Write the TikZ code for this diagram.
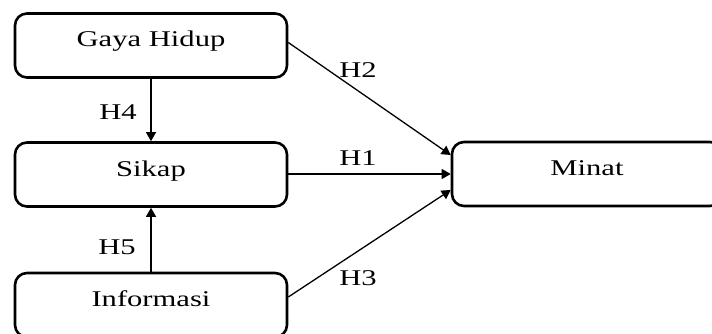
\documentclass[tikz,border=0pt]{standalone}
\usepackage{fontspec}
\setmainfont{Liberation Serif}
\usetikzlibrary{arrows.meta,calc}
\newcommand{\wtxt}[1]{\scalebox{1.36}[1]{#1}}
\tikzset{
  box/.style={draw, line width=2.6pt, rounded corners=12pt, minimum width=272pt, minimum height=64pt,
    text height=16pt, text depth=13pt, inner sep=0pt, font=\fontsize{22.5}{27}\selectfont},
  conn/.style={line width=1.3pt, -{Triangle[length=9pt,width=10pt]}},
  lbl/.style={font=\fontsize{22.5}{27}\selectfont, inner sep=0pt}
}
\begin{document}
\begin{tikzpicture}[x=1pt,y=-1pt]
\useasboundingbox (0,0) rectangle (712,334);
\node[box] (gaya) at (151,45.5) {\wtxt{Gaya Hidup}};
\node[box] (sikap) at (151,174.5) {\wtxt{Sikap}};
\node[box] (info) at (151,305) {\wtxt{Informasi}};
\node[box, minimum width=270pt] (minat) at (587,174) {\wtxt{Minat}};
\coordinate (m2) at ($(minat.west)+(0,-19)$);
\coordinate (m3) at ($(minat.west)+(0,16)$);
\coordinate (g2) at ($(gaya.east)+(0,-3)$);
\coordinate (i3) at ($(info.east)+(0,-8)$);
\draw[conn] (gaya.south) -- (sikap.north);
\draw[conn] (info.north) -- (sikap.south);
\draw[conn] (g2) -- (m2);
\draw[conn] (sikap.east |- minat.west) -- (minat.west);
\draw[conn] (i3) -- (m3);
\node[lbl] (h2) at (358,70) {\wtxt{H2}};
\node[lbl] (h1) at (358,158) {\wtxt{H1}};
\node[lbl] (h3) at (358,278) {\wtxt{H3}};
\node[lbl] (h4) at (118,112) {\wtxt{H4}};
\node[lbl] (h5) at (117,247) {\wtxt{H5}};
\end{tikzpicture}
\end{document}
